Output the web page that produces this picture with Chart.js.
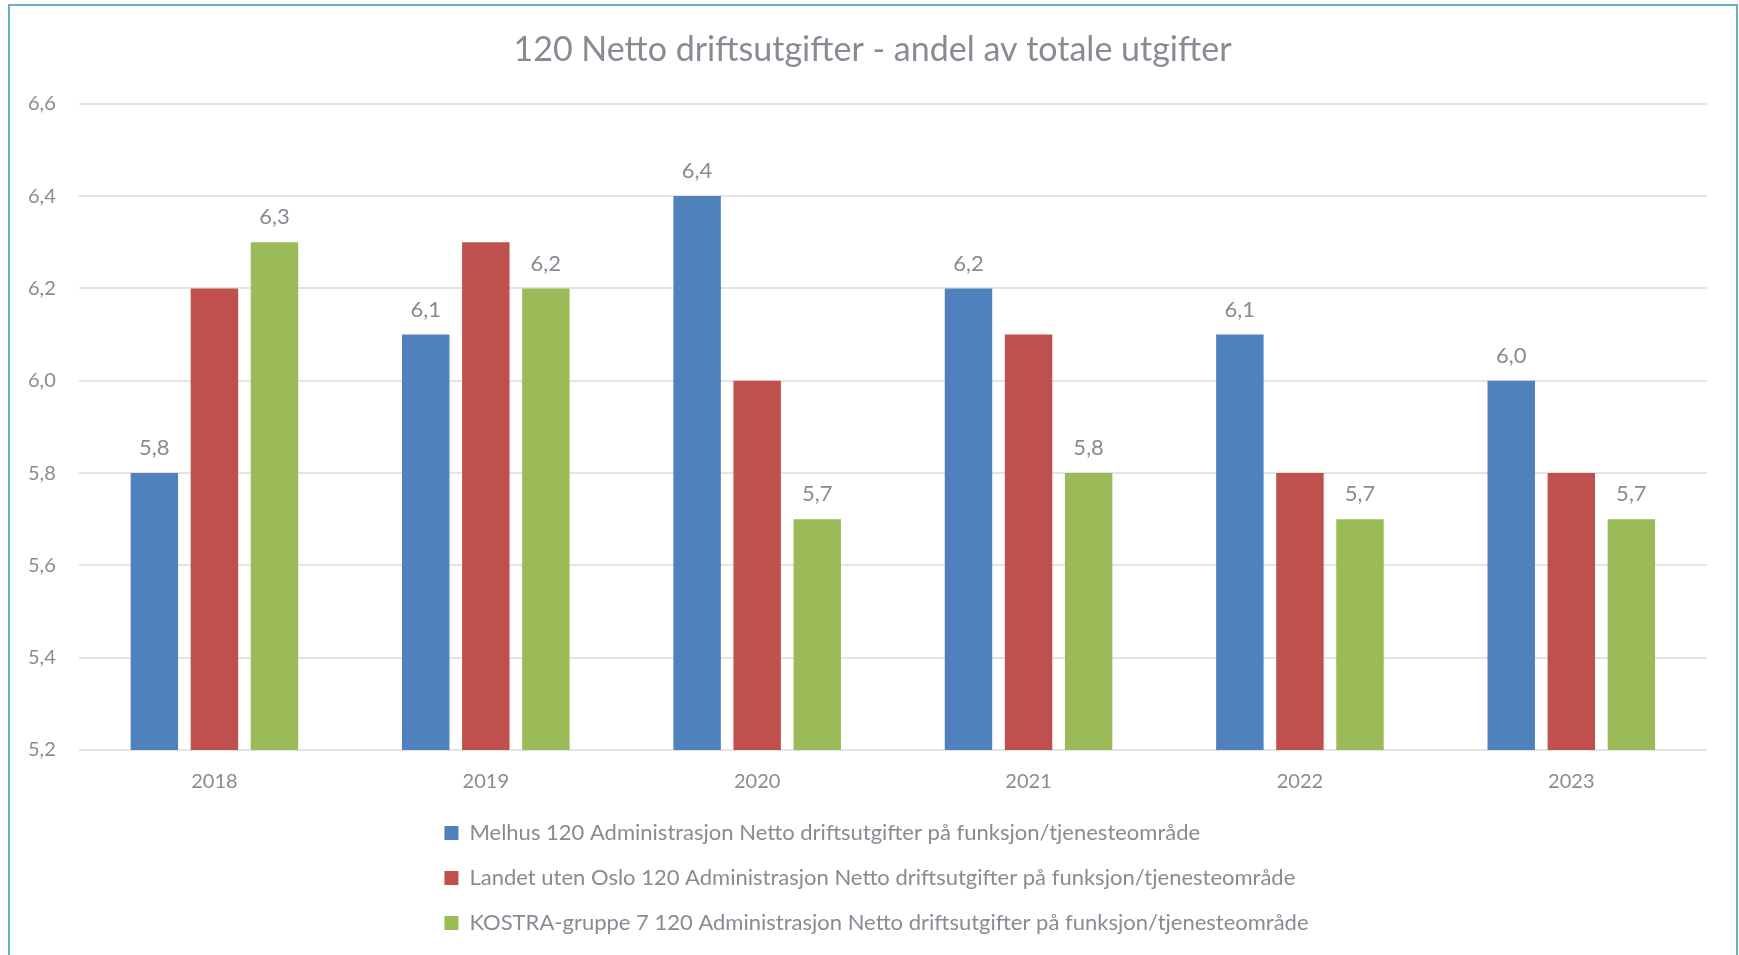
<!DOCTYPE html>
<html>
<head>
<meta charset="utf-8">
<script src="https://cdn.jsdelivr.net/npm/chart.js@4.4.1/dist/chart.umd.min.js"></script>
<style>
  html, body { margin: 0; padding: 0; background: #fff; overflow: hidden; }
  #wrap { position: relative; width: 1739px; height: 955px; }
  #box { position: absolute; left: 0; top: 0; width: 1739px; height: 955px; }
  #frame { position: absolute; left: 8px; top: 4px; width: 1730px; height: 1000px; border: 2px solid #62b2ce; box-sizing: border-box; pointer-events: none; }
</style>
</head>
<body>
<div id="wrap">
  <div id="box"><canvas id="chart"></canvas></div>
  <div id="frame"></div>
</div>
<script>
const chartTitle = "120 Netto driftsutgifter - andel av totale utgifter";
const years = ["2018", "2019", "2020", "2021", "2022", "2023"];
const seriesNames = [
  "Melhus 120 Administrasjon Netto driftsutgifter på funksjon/tjenesteområde",
  "Landet uten Oslo 120 Administrasjon Netto driftsutgifter på funksjon/tjenesteområde",
  "KOSTRA-gruppe 7 120 Administrasjon Netto driftsutgifter på funksjon/tjenesteområde",
];
const melhus = [5.8, 6.1, 6.4, 6.2, 6.1, 6.0];
const landet = [6.2, 6.3, 6.0, 6.1, 5.8, 5.8];
const kostra = [6.3, 6.2, 5.7, 5.8, 5.7, 5.7];
const yTicks = [5.2, 5.4, 5.6, 5.8, 6.0, 6.2, 6.4, 6.6];

const colors = ["#4f81bd", "#c0504d", "#9bbb59"];
const textColor = "#878b93";
const family = "Lato";
const legendLift = 7;   // pull the legend up a bit closer to the x labels
const legendShift = 7;  // legend block sits slightly right of centre
const titleShift = 3;

const fmt = (v) => v.toFixed(1).replace(".", ",");

// value labels above the bars (only for series flagged with showValues)
const valueLabels = {
  id: "valueLabels",
  afterDatasetsDraw(chart) {
    const ctx = chart.ctx;
    ctx.save();
    ctx.font = "22px " + family;
    ctx.fillStyle = textColor;
    ctx.textAlign = "center";
    ctx.textBaseline = "middle";
    chart.data.datasets.forEach((ds, i) => {
      if (!ds.showValues) return;
      chart.getDatasetMeta(i).data.forEach((bar, j) => {
        ctx.fillText(fmt(ds.data[j]), bar.x, bar.y - 25);
      });
    });
    ctx.restore();
  },
};

// title centred on the whole frame; legend one item per row, rows left-aligned
const placeBlocks = {
  id: "placeBlocks",
  afterLayout(chart) {
    const tb = chart.titleBlock;
    if (tb) {
      tb.left = titleShift;
      tb.right = chart.width + titleShift;
      tb.width = chart.width;
    }
    const lg = chart.legend;
    if (!lg || !lg.legendHitBoxes.length) return;
    const pad = lg.options.labels.padding;
    const w = Math.max(...lg.legendHitBoxes.map((b) => b.width));
    lg.left = (chart.width - w) / 2 - pad + legendShift;
    lg.right = lg.left + w + 2 * pad;
    lg.width = lg.right - lg.left;
    lg.top -= legendLift;
    lg.bottom -= legendLift;
  },
};

new Chart(document.querySelector("#chart"), {
  type: "bar",
  data: {
    labels: years,
    datasets: [
      { label: seriesNames[0], data: melhus, backgroundColor: colors[0], showValues: true },
      { label: seriesNames[1], data: landet, backgroundColor: colors[1], showValues: false },
      { label: seriesNames[2], data: kostra, backgroundColor: colors[2], showValues: true },
    ],
  },
  options: {
    responsive: true,
    maintainAspectRatio: false,
    animation: false,
    layout: { padding: { top: 10, left: 5, right: 32, bottom: 4 } },
    datasets: { bar: { categoryPercentage: 0.664, barPercentage: 0.79 } },
    plugins: {
      title: {
        display: true,
        text: chartTitle,
        color: textColor,
        font: { family, size: 34, weight: "normal" },
        padding: { top: 20, bottom: 33 },
      },
      legend: {
        position: "bottom",
        align: "start",
        fullSize: false,
        labels: {
          boxWidth: 14,
          boxHeight: 14,
          padding: 23,
          color: textColor,
          font: { family, size: 22 },
        },
      },
      tooltip: { enabled: false },
    },
    scales: {
      x: {
        grid: { display: false },
        border: { display: false },
        ticks: { color: textColor, padding: 14, font: { family, size: 20, lineHeight: 1 } },
      },
      y: {
        min: yTicks[0],
        max: yTicks[yTicks.length - 1],
        afterBuildTicks: (scale) => {
          scale.ticks = yTicks.map((v) => ({ value: v }));
        },
        grid: { color: "#e4e4e4", lineWidth: 2, drawTicks: false },
        border: { display: false },
        ticks: {
          color: textColor,
          padding: 23,
          font: { family, size: 20 },
          callback: (v) => fmt(v),
        },
      },
    },
  },
  plugins: [valueLabels, placeBlocks],
});
</script>
</body>
</html>
